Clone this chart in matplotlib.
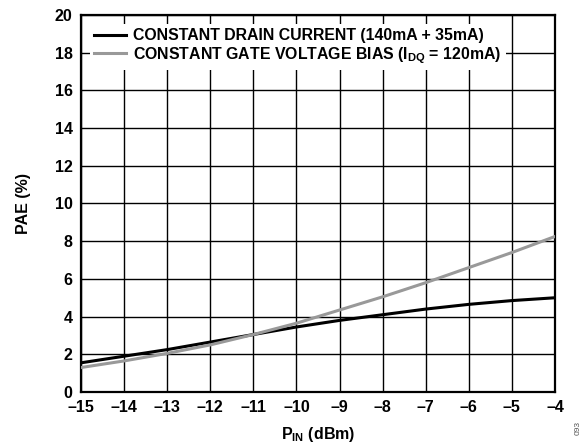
import matplotlib
matplotlib.use("Agg")
import matplotlib.pyplot as plt
import numpy as np

pin = [-15, -14, -13, -12, -11, -10, -9, -8, -7, -6, -5, -4]
pae_const_drain = [1.55, 1.9, 2.25, 2.65, 3.05, 3.45, 3.8, 4.1, 4.4, 4.65, 4.85, 5.0]
pae_const_gate = [1.3, 1.65, 2.05, 2.5, 3.05, 3.65, 4.35, 5.05, 5.8, 6.6, 7.4, 8.25]
labels = ["CONSTANT DRAIN CURRENT (140mA + 35mA)",
          r"CONSTANT GATE VOLTAGE BIAS (I$_{\mathbf{DQ}}$ = 120mA)"]
xticks = list(range(-15, -3))
yticks = list(range(0, 21, 2))

plt.rcParams['font.family'] = ['Liberation Sans', 'DejaVu Sans']
plt.rcParams['font.weight'] = 'bold'
plt.rcParams['mathtext.fontset'] = 'custom'
plt.rcParams['mathtext.rm'] = 'Liberation Sans:bold'
plt.rcParams['mathtext.bf'] = 'Liberation Sans:bold'
plt.rcParams['mathtext.it'] = 'Liberation Sans:bold'

fig = plt.figure(figsize=(5.87, 4.46), dpi=100)
ax = fig.add_axes([0.138, 0.121, 0.8075, 0.8455])

ax.plot(pin, pae_const_drain, color='black', lw=2.2, label=labels[0], zorder=3)
ax.plot(pin, pae_const_gate, color='#999999', lw=2.2, label=labels[1], zorder=3)

ax.set_xlim(-15, -4)
ax.set_ylim(0, 20)
ax.set_xticks(xticks)
ax.set_yticks(yticks)
ax.set_xticklabels([("\u2013%d" % abs(v)) for v in xticks])
ax.tick_params(length=0, labelsize=11.5, pad=6)
ax.grid(True, color='black', lw=1.0)
for s in ax.spines.values():
    s.set_linewidth(1.6)

ax.set_xlabel(r"P$_{\mathbf{IN}}$ (dBm)", fontsize=11.5, fontweight='bold', labelpad=7)
ax.set_ylabel("PAE (%)", fontsize=11.5, fontweight='bold', labelpad=17)

leg = ax.legend(loc='upper left', fontsize=11.4, frameon=True, fancybox=False,
                edgecolor='none', framealpha=1, borderaxespad=0.55,
                handlelength=2.0, handletextpad=0.45, labelspacing=0.1,
                borderpad=0.3)
leg.get_frame().set_linewidth(0)

fig.text(0.985, 0.04, "093", rotation=90, fontsize=6, color='#555555',
         fontweight='normal', ha='center', va='center')

fig.savefig("out.png", dpi=100)
